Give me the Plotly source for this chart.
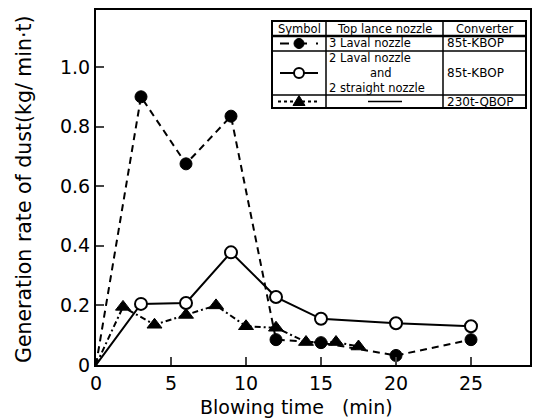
import plotly.graph_objects as go

# Data
t_kbop3 = [0, 3, 6, 9, 12, 15, 20, 25]
r_kbop3 = [0, 0.90, 0.675, 0.835, 0.085, 0.075, 0.032, 0.085]

t_kbop2 = [0, 3, 6, 9, 12, 15, 20, 25]
r_kbop2 = [0, 0.205, 0.208, 0.378, 0.228, 0.155, 0.14, 0.13]

t_qbop = [0, 1.8, 3.9, 6, 8, 10, 12, 14, 16, 17.5]
r_qbop = [0, 0.195, 0.135, 0.168, 0.2, 0.13, 0.125, 0.077, 0.077, 0.062]

xticks = [0, 5, 10, 15, 20, 25]
yticks = [0, 0.2, 0.4, 0.6, 0.8, 1.0]
yticktext = ["0", "0.2", "0.4", "0.6", "0.8", "1.0"]

FONT = "DejaVu Sans"
fig = go.Figure()

def sizes(n, s):
    return [0] + [s] * (n - 1)

fig.add_trace(go.Scatter(x=t_kbop3, y=r_kbop3, mode="lines+markers",
                         line=dict(color="black", width=2, dash="7px,5px"),
                         marker=dict(symbol="circle", color="black", size=sizes(len(t_kbop3), 12),
                                     opacity=1, line=dict(color="black", width=1))))
fig.add_trace(go.Scatter(x=t_kbop2, y=r_kbop2, mode="lines+markers",
                         line=dict(color="black", width=2),
                         marker=dict(symbol="circle", color="white", size=sizes(len(t_kbop2), 12),
                                     opacity=1, line=dict(color="black", width=2))))
fig.add_trace(go.Scatter(x=t_qbop, y=r_qbop, mode="lines+markers",
                         line=dict(color="black", width=2, dash="6px,3px,2px,3px"),
                         marker=dict(symbol="triangle-up", color="black", size=sizes(len(t_qbop), 13),
                                     opacity=1, line=dict(color="black", width=1))))

# page offset (body margin) = 8px; coordinates below are in window pixels
OFF = 8
W, H = 540, 420
PL, PR, PT, PB = 96, 530, 10, 365
pw, ph = PR - PL, PB - PT

def px(x):
    return (x - PL) / pw

def py(y):
    return (PB - y) / ph

shapes = []
annotations = []
# table
x0, x1, x2, x3 = 272, 326, 443, 526
y0, y1, y2, y3, y4 = 21, 36, 51, 95, 108
def line(xa, ya, xb, yb, w=1.5, dash=None):
    d = dict(type="line", xref="paper", yref="paper", x0=px(xa), y0=py(ya), x1=px(xb), y1=py(yb),
             line=dict(color="black", width=w))
    if dash:
        d["line"]["dash"] = dash
    shapes.append(d)

shapes.append(dict(type="rect", xref="paper", yref="paper", x0=px(x0), x1=px(x3), y0=py(y4), y1=py(y0),
                   line=dict(color="black", width=2), fillcolor="white", layer="above"))
line(x0, y1, x3, y1, 2.5)
line(x0, y2, x3, y2)
line(x0, y3, x3, y3)
line(x1, y0, x1, y4)
line(x2, y0, x2, y4)

def text(xc, yc, s, anchor="center", size=11.5, rot=0):
    annotations.append(dict(x=px(xc), y=py(yc), xref="paper", yref="paper", text=s, showarrow=False,
                            xanchor=anchor, yanchor="middle", borderpad=0, textangle=rot,
                            font=dict(family=FONT, size=size, color="black")))

text((x0 + x1) / 2, (y0 + y1) / 2, "Symbol")
text((x1 + x2) / 2, (y0 + y1) / 2, "Top lance nozzle")
text((x2 + x3) / 2, (y0 + y1) / 2, "Converter")
text(x1 + 2, (y1 + y2) / 2, "3 Laval nozzle", "left")
text(x2 + 3, (y1 + y2) / 2, "85t-KBOP", "left", size=12)
text(x1 + 2, 58, "2 Laval nozzle", "left")
text((x1 + x2) / 2 - 4, 73, "and")
text(x1 + 2, 88, "2 straight nozzle", "left")
text(x2 + 3, (y2 + y3) / 2, "85t-KBOP", "left", size=12)
text(x2 + 3, (y3 + y4) / 2, "230t-QBOP", "left", size=12)
line(368, (y3 + y4) / 2, 402, (y3 + y4) / 2, 1.5)

# symbol samples
ym1 = (y1 + y2) / 2
line(280, ym1, 318, ym1, 2, "dash")
ym2 = (y2 + y3) / 2
line(280, ym2, 318, ym2, 2)
ym3 = (y3 + y4) / 2
line(278, ym3, 320, ym3, 2, "dot")
r = 5
shapes.append(dict(type="circle", xref="paper", yref="paper", x0=px(299 - r), x1=px(299 + r),
                   y0=py(ym1 + r), y1=py(ym1 - r), fillcolor="black", line=dict(color="black", width=1)))
shapes.append(dict(type="circle", xref="paper", yref="paper", x0=px(299 - r), x1=px(299 + r),
                   y0=py(ym2 + r), y1=py(ym2 - r), fillcolor="white", line=dict(color="black", width=2)))
shapes.append(dict(type="path", xref="paper", yref="paper",
                   path=f"M {px(293)} {py(ym3 + 4)} L {px(305)} {py(ym3 + 4)} L {px(299)} {py(ym3 - 6)} Z",
                   fillcolor="black", line=dict(color="black", width=1)))

# axis titles
text(296, 407, "Blowing time   (min)", size=19)
text(24, 189, "Generation rate of dust(kg/ min·t)", size=20.5, rot=-90)

FW, FH = W - OFF, H - OFF
fig.update_layout(
    width=FW, height=FH,
    margin=dict(l=PL - OFF, r=W - PR, t=PT - OFF, b=H - PB, autoexpand=False),
    paper_bgcolor="white", plot_bgcolor="white", showlegend=False,
    font=dict(family=FONT, color="black"),
    shapes=shapes, annotations=annotations,
)
fig.update_xaxes(range=[0, (PR - PL) / 15.0], tickvals=xticks, ticks="inside", ticklen=8, tickwidth=2,
                 showgrid=False, zeroline=False, showline=True, linecolor="black", linewidth=2,
                 mirror=True, automargin=False, tickfont=dict(size=19, family=FONT))
fig.update_yaxes(range=[0, (PB - PT) / 298.0], tickvals=yticks, ticktext=yticktext, ticks="inside", ticklen=8,
                 tickwidth=2, showgrid=False, zeroline=False, showline=True, linecolor="black",
                 linewidth=2, mirror=True, automargin=False, tickfont=dict(size=19, family=FONT))

fig.write_html("out.html")
